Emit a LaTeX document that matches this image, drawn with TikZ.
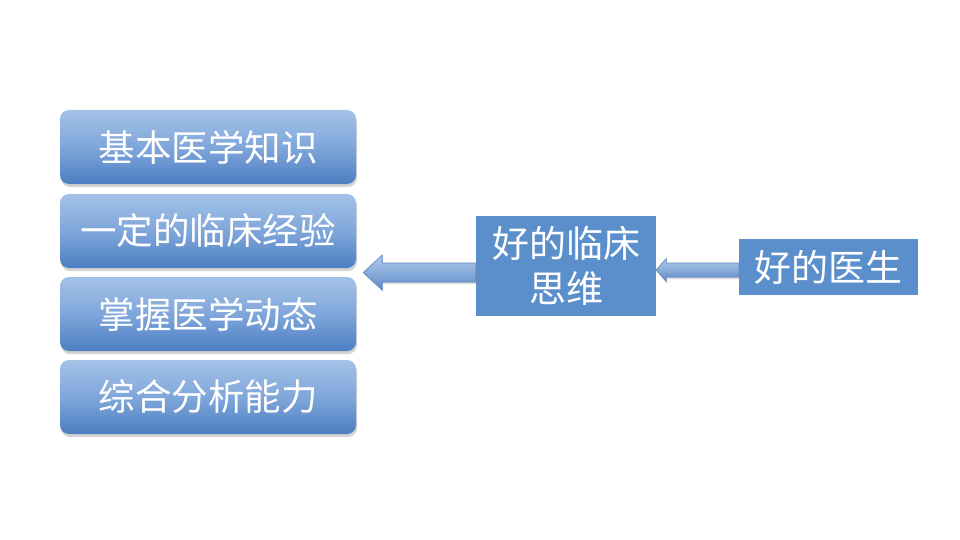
\documentclass[tikz,border=0pt]{standalone}
\usepackage{fontspec}
\newfontfamily\cjk{Noto Sans CJK SC}
\usetikzlibrary{calc,shadows}
\definecolor{boxtop}{HTML}{A3C2E8}
\definecolor{boxmid}{HTML}{7FA6DA}
\definecolor{boxbot}{HTML}{4C7FC2}
\definecolor{flat}{HTML}{5B8FCC}
\definecolor{arrline}{HTML}{5A86C0}
\tikzset{
  grad/.style={rounded corners=9pt, top color=boxtop, bottom color=boxbot, middle color=boxmid,
    minimum width=296pt, minimum height=74pt, inner sep=0pt, text=white,
    font=\cjk\fontsize{36.5}{40}\selectfont,
    drop shadow={shadow xshift=1pt, shadow yshift=-3pt, opacity=0.35}},
  flatbox/.style={fill=flat, text=white, inner sep=0pt, align=center,
    font=\cjk\fontsize{37}{45}\selectfont},
  arr/.style={draw=arrline, line width=0.6pt, top color=boxtop!85!white, bottom color=boxbot!90!white,
    drop shadow={shadow xshift=1pt, shadow yshift=-2pt, opacity=0.3}}
}
\begin{document}
\begin{tikzpicture}[x=1pt,y=-1pt]
\useasboundingbox (0,0) rectangle (960,540);
\node[grad] (b1) at (208,147) {基本医学知识};
\node[grad] (b2) at (208,231) {一定的临床经验};
\node[grad] (b3) at (208,314) {掌握医学动态};
\node[grad] (b4) at (208,397) {综合分析能力};
\node[flatbox, minimum width=180pt, minimum height=100pt] (mid) at (566,266) {好的临床\\思维};
\node[flatbox, minimum width=179pt, minimum height=56pt] (doc) at (828.5,267) {好的医生};
% arrow 1
\coordinate (a1s) at ($(mid.west)+(0,6.5)$);
\coordinate (a1tip) at ($(b2.east |- a1s)+(7,0)$);
\path[arr] (a1tip) -- ++(19,-17.5) -- ++(0,8) -- ($(a1s)+(0,-9.5)$) -- ($(a1s)+(0,9.5)$)
  -- ($(a1tip)+(19,9.5)$) -- ++(0,8) -- cycle;
% arrow 2
\coordinate (a2s) at ($(doc.west)+(0,3)$);
\coordinate (a2tip) at (mid.east |- a2s);
\path[arr] (a2tip) -- ++(10,-11.5) -- ++(0,4.5) -- ($(a2s)+(0,-7)$) -- ($(a2s)+(0,7)$)
  -- ($(a2tip)+(10,7)$) -- ++(0,4.5) -- cycle;
\end{tikzpicture}
\end{document}
